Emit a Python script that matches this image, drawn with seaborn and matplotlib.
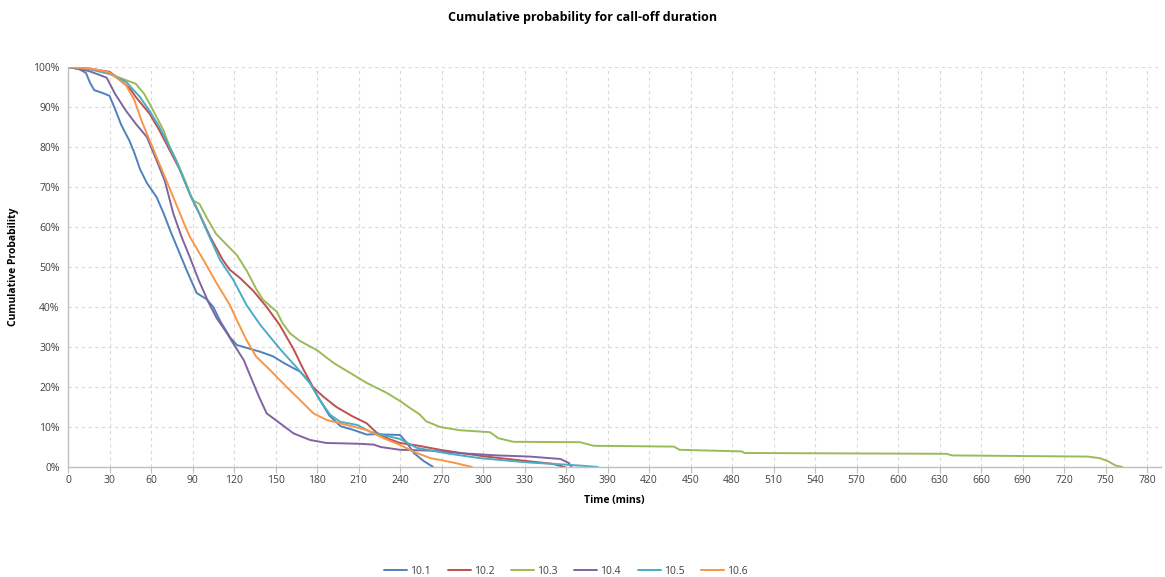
import numpy as np
import pandas as pd
import matplotlib
matplotlib.use("Agg")
import matplotlib.pyplot as plt
import seaborn as sns
from matplotlib.ticker import FuncFormatter, MultipleLocator

# ---------------- data (minutes, cumulative probability %) ----------------
series_names = ["10.1", "10.2", "10.3", "10.4", "10.5", "10.6"]

t_101 = [0, 8, 13, 16, 19, 25, 30, 34, 38.5, 44.5, 48, 52, 57, 64, 69, 74, 80, 86, 93, 100,
         105, 110, 117, 122, 127, 134, 139, 148, 156, 163, 168, 175, 182, 189, 197, 206, 216,
         222, 240, 245, 250, 257, 264]
p_101 = [100, 99.5, 98.5, 96, 94.2, 93.5, 92.8, 89.5, 85.5, 81.5, 78.5, 74.5, 71, 67.5, 63.5,
         59, 54, 49, 43.5, 42, 40, 36.5, 32.5, 30.5, 30, 29.3, 28.8, 27.7, 26, 24.7, 23.8, 21,
         16.8, 12.8, 10.2, 9.3, 8.1, 8.2, 8.0, 6, 3.5, 1.5, 0]

t_102 = [0, 15, 30, 37, 45, 49, 55, 59, 66, 73.5, 81, 88, 95, 102.7, 112, 117, 124.5, 134,
         143.6, 153, 163, 170, 177, 184.5, 194, 206, 216, 223, 232, 240, 252, 269, 286, 300,
         318, 334, 350, 359]
p_102 = [100, 99.6, 98.8, 97, 94.5, 92.5, 90, 88.3, 84.2, 79.2, 74.2, 68.3, 63.3, 57.6, 51.7,
         49.3, 47.2, 44, 40, 35.5, 29.5, 24.5, 20, 17.6, 15, 12.6, 10.9, 8.6, 7, 6.0, 5.4, 4.3,
         3.4, 2.7, 2.0, 1.4, 0.8, 0]

t_103 = [0, 15, 30, 42, 49, 55, 59, 64, 69, 73.5, 79.5, 85.5, 90, 95, 100, 107, 112, 122, 129,
         136.5, 141, 146, 151, 155, 160.5, 167.7, 180, 192, 204, 216, 230, 240, 247, 254, 259,
         269, 283, 305, 311, 322, 370, 380, 438, 442, 487, 489, 635, 639, 737, 746, 752, 757,
         762]
p_103 = [100, 99.5, 98.3, 96.7, 95.8, 93.3, 90.8, 87.5, 84.2, 80, 75.8, 70.8, 66.7, 65.8, 62.5,
         58.3, 56.5, 53, 49.2, 44.2, 41.8, 40.3, 38.8, 36, 33.4, 31.5, 29.2, 26, 23.5, 21, 18.6,
         16.5, 14.8, 13.2, 11.4, 10, 9.2, 8.7, 7.2, 6.3, 6.2, 5.3, 5.1, 4.3, 3.9, 3.5, 3.3, 2.9,
         2.6, 2.2, 1.4, 0.4, 0]

t_104 = [0, 15, 23, 28, 34, 42, 49, 57, 64, 70, 76, 82, 88, 94.5, 101.5, 107.5, 114.8, 121, 127,
         133, 138, 143.6, 153, 163, 175, 187, 200, 211, 221, 226, 240, 262, 286, 310, 334, 356,
         362, 364]
p_104 = [100, 99, 98, 97.3, 93.3, 89, 85.8, 82.5, 76.7, 71.5, 63.5, 57.6, 52.5, 46.7, 41.2,
         37.2, 33.5, 30, 26.75, 21.75, 17.6, 13.4, 11, 8.4, 6.75, 6.0, 5.9, 5.8, 5.6, 5.0, 4.3,
         4.1, 3.4, 2.9, 2.6, 2.0, 1.0, 0]

t_105 = [0, 15, 30, 42, 52, 59, 66, 71, 77, 83, 89, 95, 101, 110, 119.6, 129, 139, 148.5, 155,
         165, 175, 182, 189.6, 196.8, 209, 218.4, 230, 240, 252, 274, 298, 334, 360, 372, 383]
p_105 = [100, 99.5, 98.3, 96.3, 92.5, 89, 85, 81.7, 77.5, 72.5, 67.5, 63.3, 58.5, 51.7, 46.7,
         40.5, 35.5, 31.5, 28.8, 25, 20.9, 16.75, 13, 11.3, 10.5, 8.8, 7.8, 7.0, 4.8, 3.4, 2.2,
         1.1, 0.6, 0.3, 0]

t_106 = [0, 15, 23, 30, 37, 42, 48, 53, 58, 64, 71, 77, 84, 88, 98, 107.5, 117, 122, 129, 136,
         146, 158, 167.7, 177.4, 187, 201.5, 216, 228, 240, 250, 262, 270, 280, 292]
p_106 = [100, 99.6, 99.2, 98.6, 96.8, 95.4, 91.7, 86.7, 82.5, 77.5, 71.7, 66.7, 60.8, 57.6,
         51.7, 45.9, 40.5, 36.75, 31.75, 27.6, 24.25, 20, 16.75, 13.4, 11.75, 10.5, 9.25, 7.2,
         5.5, 3.8, 2.2, 1.7, 1.0, 0]

x_ticks = list(range(0, 781, 30))
y_ticks = list(range(0, 101, 10))

# ---------------- build long-form table ----------------
all_t = [t_101, t_102, t_103, t_104, t_105, t_106]
all_p = [p_101, p_102, p_103, p_104, p_105, p_106]
frames = []
for name, tt, pp in zip(series_names, all_t, all_p):
    frames.append(pd.DataFrame({"Time": tt, "Prob": pp, "Series": name,
                                "order": np.arange(len(tt))}))
df = pd.concat(frames, ignore_index=True)

palette = {"10.1": "#4F81BD", "10.2": "#C0504D", "10.3": "#9BBB59",
           "10.4": "#8064A2", "10.5": "#4BACC6", "10.6": "#F79646"}

# ---------------- draw ----------------
sns.set_theme(style="white")
plt.rcParams["font.family"] = ["Open Sans", "DejaVu Sans"]

fig = plt.figure(figsize=(11.65, 5.77), dpi=100)
ax = fig.add_axes([68 / 1165, 110 / 577, (1161 - 68) / 1165, 400 / 577])

sns.lineplot(data=df, x="Time", y="Prob", hue="Series", palette=palette,
             estimator=None, sort=False, units="Series", linewidth=1.4, ax=ax, legend=False)

ax.set_xlim(0, 790)
ax.set_ylim(0, 100)
ax.set_xticks(x_ticks)
ax.set_yticks(y_ticks)
ax.yaxis.set_major_formatter(FuncFormatter(lambda v, _: f"{int(v)}%"))

ax.grid(True, which="major", linestyle=(0, (3, 3)), color="#D9D9D9", linewidth=0.8)
ax.set_axisbelow(True)
for s in ["top", "right"]:
    ax.spines[s].set_visible(False)
for s in ["left", "bottom"]:
    ax.spines[s].set_color("#BFBFBF")
    ax.spines[s].set_linewidth(1.0)

ax.tick_params(axis="x", which="major", length=4, width=0.8, color="#BFBFBF",
               labelsize=7.5, labelcolor="#404040", pad=2, bottom=True)
ax.tick_params(axis="y", which="major", length=0, labelsize=7.5, labelcolor="#404040", pad=6)

ax.set_xlabel("Time (mins)", fontsize=7.5, fontweight="bold", color="#000000", labelpad=6)
ax.set_ylabel("Cumulative Probability", fontsize=7.5, fontweight="bold", color="#000000",
              labelpad=10)

fig.text(582.5 / 1165, 1 - 18 / 577, "Cumulative probability for call-off duration",
         ha="center", va="center", fontsize=9, fontweight="bold", color="#000000")

from matplotlib.lines import Line2D
handles = [Line2D([0], [0], color=palette[n], linewidth=1.4) for n in series_names]
fig.legend(handles, series_names, loc="center", bbox_to_anchor=(566 / 1165, 1 - 571 / 577),
           ncol=6, frameon=False, fontsize=7.5, handlelength=2.2, handletextpad=0.3,
           columnspacing=1.6, labelcolor="#404040")

fig.savefig("out.png", dpi=100)
